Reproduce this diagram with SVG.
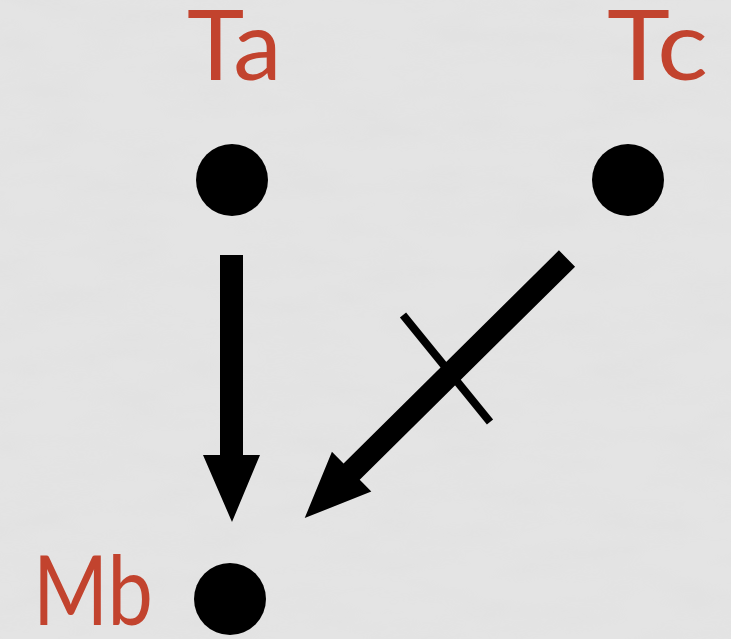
<svg xmlns="http://www.w3.org/2000/svg" width="731" height="639" viewBox="0 0 731 639">
  <style>
    .lbl { font-family: Lato, "Open Sans", "Liberation Sans", sans-serif; font-size: 97px; fill: #c2432e; }
    .dot { fill: #000; }
    .arrow { fill: #000; }
  </style>
  <defs>
    <filter id="tex" x="0" y="0" width="100%" height="100%">
      <feTurbulence type="fractalNoise" baseFrequency="0.012 0.035" numOctaves="4" seed="7"/>
      <feColorMatrix type="matrix" values="0 0 0 0 0.5  0 0 0 0 0.5  0 0 0 0 0.5  0 0 0 0.9 -0.35"/>
    </filter>
  </defs>
  <rect width="731" height="639" fill="#e4e4e4"/>
  <rect width="731" height="639" filter="url(#tex)" opacity="0.12"/>

  <g id="node-Ta">
    <text class="lbl" x="187" y="80">Ta</text>
    <circle class="dot" cx="232" cy="180" r="36"/>
  </g>
  <g id="node-Tc">
    <text class="lbl" x="607" y="80" textLength="101" lengthAdjust="spacingAndGlyphs">Tc</text>
    <circle class="dot" cx="628" cy="180" r="36"/>
  </g>
  <g id="node-Mb">
    <text class="lbl" x="33" y="625" textLength="120" lengthAdjust="spacingAndGlyphs">Mb</text>
    <circle class="dot" cx="230" cy="599" r="36"/>
  </g>

  <g id="connectors">
    <polygon class="arrow" points="220,255 243,255 243,455 260,455 232,522 203,455 220,455"/>
    <polygon class="arrow" transform="translate(567,258.5) rotate(45.3)" points="-11.5,0 11.5,0 11.5,303 28,303 0,369 -28,303 -11.5,303"/>
    <line x1="403" y1="315" x2="490" y2="422" stroke="#000" stroke-width="8"/>
  </g>
</svg>
